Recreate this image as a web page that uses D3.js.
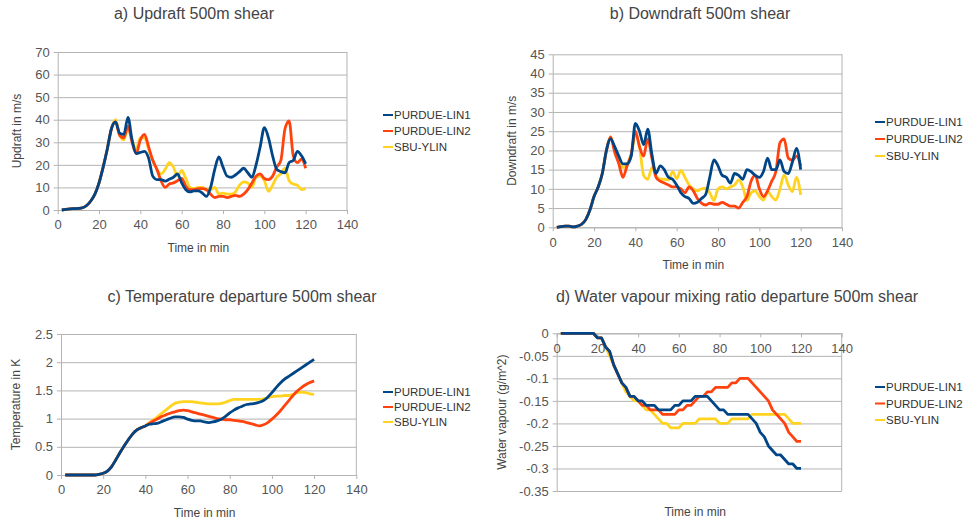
<!DOCTYPE html>
<html>
<head>
<meta charset="utf-8">
<script src="https://cdn.jsdelivr.net/npm/d3@7"></script>
<style>
  body { margin: 0; background: #fff; }
  svg text { font-family: "Liberation Sans", Arial, sans-serif; }
</style>
</head>
<body>
<svg id="chart" width="971" height="522"></svg>
<script>
// time in min (one value every 2 min)
var time = [2,4,6,8,10,12,14,16,18,20, 22,24,26,28,30,32,34,36,38,40,
            42,44,46,48,50,52,54,56,58,60, 62,64,66,68,70,72,74,76,78,80,
            82,84,86,88,90,92,94,96,98,100, 102,104,106,108,110,112,114,116,118,120];

var seriesNames = ["PURDUE-LIN1", "PURDUE-LIN2", "SBU-YLIN"];
var seriesColors = ["#004586", "#ff420e", "#ffd320"];

var xTicks = [0,20,40,60,80,100,120,140];

// a) updraft
var updraftLin1 = [0,0.3,0.5,0.6,0.7,1.0,2,4,7,12,
  19,27,36,39,34,33.5,41,31,25,25.5,
  26,23,15,13.5,13.5,12.8,13.6,14.5,16,12,
  9,8,8.5,8.5,7.5,6,10,18,23.5,19,
  15,14.5,15.5,17,18.5,16.5,14.5,20,28,36.5,
  32,24,18,17,16.5,21,22,26,24,20.5];
var updraftLin2 = [0,0.3,0.5,0.6,0.7,1.0,2,4,7,12,
  19,27,36,39,33,32,37,30,25,31,
  33.5,28,22,18,13,10,11.5,12,13,14,
  10.5,9,9,9.5,9.5,9,7,5.5,6,6,
  5.5,6,6.5,6,7,9,12,15,16,14,
  13.5,15,19,22,36,39.5,24,21,22.5,18.5];
var updraftYlin = [0,0.3,0.5,0.6,0.7,1.0,2,4,7,12,
  19,27,36,40,33,31,37,31,27,32,
  32,27,22,18,16,18,21,19,15,17.5,
  14,10,9.5,10,10,9,9,10,7,7.5,
  7,7,8,11,12.5,12,10,14.5,15,13,
  8.3,11,14.5,16,18.5,13,11.5,11,9,9.5];
var updraftTicks = [0,10,20,30,40,50,60,70];

// b) downdraft
var downdraftLin1 = [0,0.2,0.3,0.3,0.1,0.3,0.8,2,4.5,8,
  10.5,14,20,23,21,18.5,16.5,16.5,18.5,27,
  25,21.5,25.5,19,14,16,15,13,12.5,11,
  9,8,7.5,6.2,6.5,7.5,8.5,13,17.5,16,
  13.5,13,11.5,14,13.5,12.5,15,14.5,13.5,13,
  14.5,18,15,15,17.5,14.5,14,17,20.5,15];
var downdraftLin2 = [0,0.2,0.3,0.3,0.1,0.3,0.8,2,4.5,8,
  10.5,14,20,23.5,19.5,16.5,13,16,19,25,
  21,18.5,23,18,13,12,11.5,11,10.5,10.5,
  10,9,10.5,9.5,7.5,6.3,5.8,6.3,6,6,
  6.5,6,5.5,5.5,5,6.5,8,12,13.5,10,
  8,9.5,12,14.5,22,23,18,17.5,18.5,16];
var downdraftYlin = [0,0.2,0.3,0.3,0.1,0.3,0.8,2,4.5,8,
  10.5,14,20,23.5,20,18,15.5,16.5,19,24,
  21,13.5,12.5,15.5,13.5,12.5,12.5,12.3,14.5,12.7,
  14.8,13,11,10,9.5,10,10.2,9,7,10,
  10.5,10,10.5,11,12.3,10.5,7,9,9.5,8,
  7.1,9.3,8,7.1,10,13.6,11,9.3,13,8.4];
var downdraftTicks = [0,5,10,15,20,25,30,35,40,45];

// c) temperature departure
var tempLin1 = [0,0,0,0,0,0,0,0,0.01,0.03,
  0.07,0.15,0.27,0.4,0.52,0.63,0.73,0.8,0.84,0.87,
  0.9,0.91,0.92,0.95,0.98,1.01,1.03,1.03,1.02,0.99,
  0.97,0.96,0.96,0.94,0.93,0.94,0.96,0.99,1.04,1.1,
  1.15,1.19,1.22,1.25,1.26,1.27,1.29,1.32,1.38,1.46,
  1.55,1.63,1.7,1.75,1.8,1.85,1.9,1.95,2.0,2.05];
var tempLin2 = [0,0,0,0,0,0,0,0,0.01,0.03,
  0.07,0.15,0.27,0.4,0.52,0.63,0.73,0.8,0.84,0.87,
  0.92,0.96,1.0,1.04,1.07,1.1,1.12,1.14,1.15,1.14,
  1.12,1.1,1.08,1.06,1.04,1.02,1.0,0.99,0.98,0.98,
  0.97,0.96,0.95,0.93,0.91,0.89,0.87,0.89,0.93,0.99,
  1.06,1.14,1.23,1.32,1.41,1.49,1.55,1.6,1.64,1.67];
var tempYlin = [0,0,0,0,0,0,0,0,0.01,0.03,
  0.07,0.15,0.27,0.4,0.52,0.63,0.73,0.8,0.84,0.87,
  0.93,0.98,1.04,1.1,1.16,1.22,1.27,1.29,1.3,1.3,
  1.3,1.29,1.28,1.27,1.26,1.26,1.26,1.27,1.29,1.32,
  1.34,1.34,1.34,1.34,1.34,1.34,1.34,1.35,1.37,1.39,
  1.4,1.4,1.41,1.41,1.43,1.46,1.47,1.46,1.44,1.43];
var tempTicks = [0,0.5,1,1.5,2,2.5];

// d) water vapour mixing ratio departure
var vapourLin1 = [0,0,0,0,0,0,0,0,0,-0.01,
  -0.01,-0.03,-0.04,-0.07,-0.09,-0.11,-0.12,-0.14,-0.14,-0.15,
  -0.15,-0.16,-0.16,-0.16,-0.17,-0.17,-0.17,-0.17,-0.16,-0.16,
  -0.15,-0.15,-0.15,-0.14,-0.14,-0.14,-0.14,-0.15,-0.16,-0.17,
  -0.17,-0.18,-0.18,-0.18,-0.18,-0.18,-0.18,-0.19,-0.2,-0.22,
  -0.23,-0.25,-0.26,-0.27,-0.27,-0.28,-0.29,-0.29,-0.3,-0.3];
var vapourLin2 = [0,0,0,0,0,0,0,0,0,-0.01,
  -0.01,-0.03,-0.04,-0.07,-0.09,-0.11,-0.12,-0.14,-0.14,-0.15,
  -0.16,-0.16,-0.17,-0.17,-0.17,-0.18,-0.18,-0.18,-0.18,-0.17,
  -0.17,-0.16,-0.16,-0.15,-0.14,-0.14,-0.13,-0.13,-0.12,-0.12,
  -0.12,-0.12,-0.11,-0.11,-0.1,-0.1,-0.1,-0.11,-0.12,-0.13,
  -0.14,-0.15,-0.17,-0.18,-0.19,-0.2,-0.22,-0.23,-0.24,-0.24];
var vapourYlin = [0,0,0,0,0,0,0,0,0,-0.01,
  -0.01,-0.03,-0.05,-0.07,-0.09,-0.11,-0.13,-0.14,-0.15,-0.15,
  -0.16,-0.17,-0.17,-0.18,-0.19,-0.2,-0.2,-0.21,-0.21,-0.21,
  -0.2,-0.2,-0.2,-0.2,-0.19,-0.19,-0.19,-0.19,-0.19,-0.2,
  -0.2,-0.2,-0.19,-0.19,-0.19,-0.19,-0.19,-0.18,-0.18,-0.18,
  -0.18,-0.18,-0.18,-0.18,-0.18,-0.18,-0.19,-0.2,-0.2,-0.2];
var vapourTicks = [0,-0.05,-0.1,-0.15,-0.2,-0.25,-0.3,-0.35];

var panels = [
  { title: "a) Updraft 500m shear", yLabel: "Updraft in m/s",
    series: [updraftLin1, updraftLin2, updraftYlin], yTicks: updraftTicks,
    left: 57.7, right: 347, top: 52, bottom: 210,
    titleX: 194, titleY: 19, yLabelX: 17, legendX: 383, legendY: [115, 131, 147],
    curve: d3.curveMonotoneX },
  { title: "b) Downdraft 500m shear", yLabel: "Downdraft in m/s",
    series: [downdraftLin1, downdraftLin2, downdraftYlin], yTicks: downdraftTicks,
    left: 552.7, right: 842, top: 54.3, bottom: 227.3,
    titleX: 700, titleY: 19, yLabelX: 512, legendX: 875, legendY: [122, 139, 156],
    curve: d3.curveMonotoneX },
  { title: "c) Temperature departure 500m shear", yLabel: "Temperature in K",
    series: [tempLin1, tempLin2, tempYlin], yTicks: tempTicks,
    left: 61, right: 356.3, top: 334, bottom: 475,
    titleX: 242, titleY: 302, yLabelX: 16, legendX: 383, legendY: [392, 407, 422],
    curve: d3.curveMonotoneX },
  { title: "d) Water vapour mixing ratio departure 500m shear", yLabel: "Water vapour (g/m^2)",
    series: [vapourLin1, vapourLin2, vapourYlin], yTicks: vapourTicks,
    left: 556.7, right: 841.7, top: 333.3, bottom: 491,
    titleX: 737, titleY: 302, yLabelX: 502, legendX: 875, legendY: [387, 403.5, 420],
    curve: d3.curveLinear }
];

var svg = d3.select("#chart");
var gridColor = "#b3b3b3";
var textColor = "#555";

panels.forEach(function(p) {
  var g = svg.append("g");

  var xScale = d3.scaleLinear().domain([0, 140]).range([p.left, p.right]);
  var yScale = d3.scaleLinear()
      .domain(d3.extent(p.yTicks))
      .range([p.bottom, p.top]);

  // horizontal grid
  g.append("g")
    .attr("transform", "translate(" + p.left + ",0)")
    .call(d3.axisLeft(yScale).tickValues(p.yTicks).tickSize(-(p.right - p.left)).tickFormat(""))
    .call(function(s) { s.select(".domain").remove(); })
    .selectAll("line").attr("stroke", gridColor);

  // right border
  g.append("line")
    .attr("x1", p.right).attr("x2", p.right)
    .attr("y1", p.top).attr("y2", p.bottom)
    .attr("stroke", gridColor);

  // y axis
  var yAxis = g.append("g")
    .attr("transform", "translate(" + p.left + ",0)")
    .call(d3.axisLeft(yScale).tickValues(p.yTicks).tickSize(4).tickPadding(4).tickSizeOuter(0)
      .tickFormat(function(d) { return String(d); }));
  yAxis.selectAll("line, path").attr("stroke", gridColor);
  yAxis.selectAll("text").attr("fill", textColor).style("font-size", "13px");

  // x axis (at value 0)
  var xAxis = g.append("g")
    .attr("transform", "translate(0," + yScale(0) + ")")
    .call(d3.axisBottom(xScale).tickValues(xTicks).tickSize(4).tickPadding(6).tickSizeOuter(0));
  xAxis.selectAll("line, path").attr("stroke", gridColor);
  xAxis.selectAll("text").attr("fill", textColor).style("font-size", "13px");

  // lines, yellow first so blue sits on top
  var line = d3.line()
    .x(function(d, i) { return xScale(time[i]); })
    .y(function(d) { return yScale(d); })
    .curve(p.curve);

  [2, 1, 0].forEach(function(k) {
    g.append("path")
      .datum(p.series[k])
      .attr("d", line)
      .attr("fill", "none")
      .attr("stroke", seriesColors[k])
      .attr("stroke-width", 2.8)
      .attr("stroke-linejoin", "round");
  });

  // title
  g.append("text")
    .attr("x", p.titleX).attr("y", p.titleY)
    .attr("text-anchor", "middle")
    .attr("fill", "#444")
    .style("font-size", "16px")
    .text(p.title);

  // x axis label
  g.append("text")
    .attr("x", (p.left + p.right) / 2 - 4)
    .attr("y", p.bottom + (p.yTicks[1] < 0 ? 25 : 42))
    .attr("text-anchor", "middle")
    .attr("fill", "#444")
    .style("font-size", "12px")
    .text("Time in min");

  // y axis label
  g.append("text")
    .attr("transform", "translate(" + p.yLabelX + "," + (p.top + p.bottom) / 2 + ") rotate(-90)")
    .attr("text-anchor", "middle")
    .attr("dy", "0.35em")
    .attr("fill", "#444")
    .style("font-size", "12px")
    .text(p.yLabel);

  // legend
  seriesNames.forEach(function(name, k) {
    var ly = p.legendY[k];
    g.append("line")
      .attr("x1", p.legendX).attr("x2", p.legendX + 10)
      .attr("y1", ly).attr("y2", ly)
      .attr("stroke", seriesColors[k])
      .attr("stroke-width", 2);
    g.append("text")
      .attr("x", p.legendX + 11).attr("y", ly)
      .attr("dy", "0.35em")
      .attr("fill", "#333")
      .style("font-size", "11.5px")
      .text(name);
  });
});
</script>
</body>
</html>
